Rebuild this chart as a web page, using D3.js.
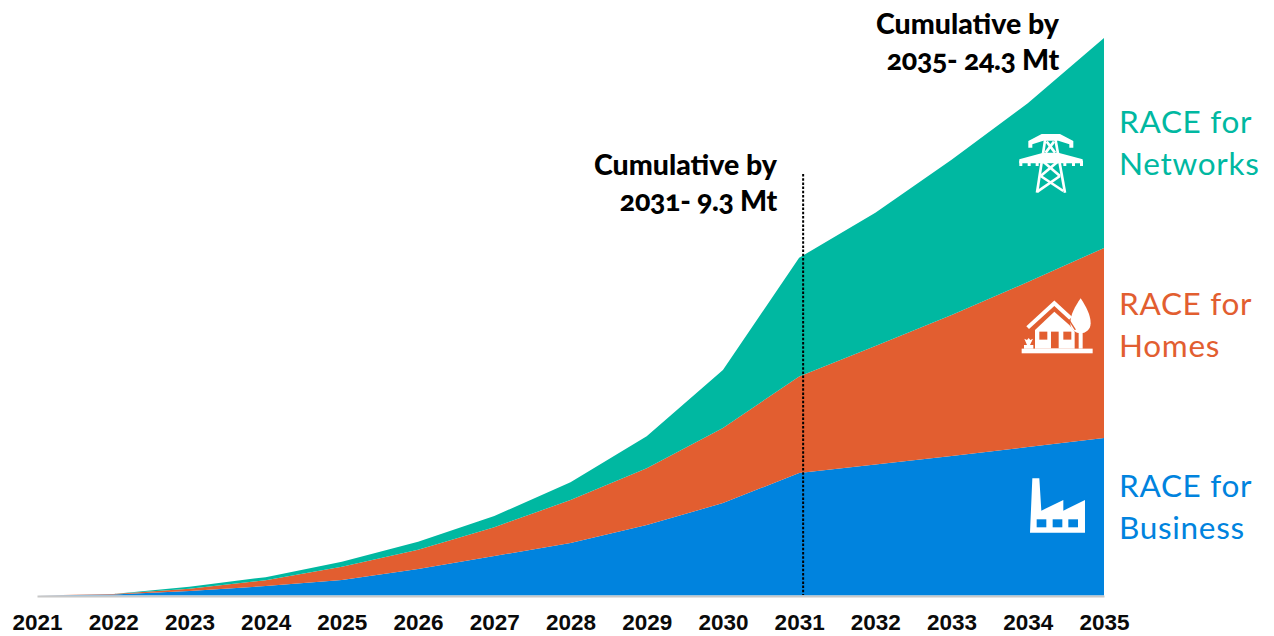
<!DOCTYPE html>
<html><head><meta charset="utf-8">
<script src="https://cdn.jsdelivr.net/npm/d3@7"></script>
<style>
html,body{margin:0;padding:0;background:#fff}
svg{display:block}
.race{font-family:Lato,"Open Sans",sans-serif;font-weight:400;font-size:31.5px;letter-spacing:0.7px}
.note{font-family:Lato,"Open Sans",sans-serif;font-weight:900;font-size:28.5px;fill:#000;text-anchor:end;font-feature-settings:"onum" 1;font-variant-numeric:oldstyle-nums}
.tick text{font-family:"Liberation Sans",Arial,sans-serif;font-weight:700;font-size:22.5px;fill:#0a0a0a}
</style></head><body>
<svg id="c" width="1274" height="636"></svg>
<script>
const years=[2021,2022,2023,2024,2025,2026,2027,2028,2029,2030,2031,2032,2033,2034,2035];
const business=[0,0.04,0.20,0.41,0.68,1.16,1.72,2.29,3.07,4.03,5.34,5.71,6.08,6.47,6.87];
const homes=[0,0.02,0.09,0.26,0.57,0.83,1.26,1.87,2.48,3.27,4.21,5.17,6.15,7.19,8.28];
const networks=[0,0,0.09,0.13,0.22,0.35,0.48,0.78,1.39,2.53,5.17,5.80,6.76,7.80,9.15];
const seriesNames=["business","homes","networks"];
const seriesColors=["#0083de","#e25e30","#00b8a1"];
const labelLines=[["RACE for","Business"],["RACE for","Homes"],["RACE for","Networks"]];
const labelBaselines=[[497,539],[315,357],[133,175]];
const notes=[{lines:["Cumulative by","2031- 9.3 Mt"],x:777,y:[175,211]},{lines:["Cumulative by","2035- 24.3 Mt"],x:1059,y:[34,70]}];

const svg=d3.select("#c");
const x=d3.scaleLinear().domain([2021,2035]).range([37,1104]);
const y=d3.scaleLinear().domain([0,24.3]).range([595.5,38]);
const table=years.map((yr,i)=>({year:yr,business:business[i],homes:homes[i],networks:networks[i]}));
const stack=d3.stack().keys(seriesNames)(table);
const area=d3.area().x(d=>x(d.data.year)).y0(d=>y(d[0])).y1(d=>y(d[1]));
svg.selectAll("path.a").data(stack).join("path").attr("class","a").attr("d",area).attr("fill",(d,i)=>seriesColors[i]);

const ax=svg.append("g").attr("transform","translate(0,596)")
 .call(d3.axisBottom(x).tickValues(years).tickFormat(d3.format("d")).tickSize(0).tickPadding(18));
ax.select(".domain").attr("stroke","#c8c8c8").attr("stroke-width",2);

svg.append("line").attr("x1",x(2031)+4).attr("x2",x(2031)+4).attr("y1",174).attr("y2",595)
 .attr("stroke","#000").attr("stroke-width",2).attr("stroke-dasharray","2.5 1.7");

labelLines.forEach((ls,i)=>ls.forEach((t,j)=>svg.append("text").attr("class","race").attr("x",1119).attr("y",labelBaselines[i][j]).attr("fill",seriesColors[i]).text(t)));
notes.forEach(n=>n.lines.forEach((t,j)=>svg.append("text").attr("class","note").attr("x",n.x).attr("y",n.y[j]).attr("letter-spacing",j?-0.3:0).text(t)));

// Icons
const tower=svg.append("g").attr("transform","translate(1000,110) scale(0.3333)").attr("fill","#fff");
tower.append("path").attr("d","M85 93L125 72L180 72L220 93L220 113L208 113L208 103L175 92L130 92L97 103L97 113L85 113Z");
tower.append("path").attr("d","M58 148L130 128L175 128L248 148L248 160L58 160Z");
[58,83,107,190,216,240].forEach(t=>tower.append("rect").attr("x",t).attr("y",152).attr("width",9).attr("height",16));
const tw=tower.append("g").attr("stroke","#fff").attr("stroke-width",8).attr("fill","none");
[[136,86,111,248],[166,86,195,248],[140,95,165,128],[162,95,137,128],[131,156,180,198],[172,156,122,198],[122,198,190,243],[180,198,112,245]].forEach(l=>tw.append("line").attr("x1",l[0]).attr("y1",l[1]).attr("x2",l[2]).attr("y2",l[3]));

const house=svg.append("g").attr("transform","translate(1000,110) scale(0.3333)").attr("fill","#fff");
house.append("path").attr("d","M83 653L163 580L212 625").attr("fill","none").attr("stroke","#fff").attr("stroke-width",12);
house.append("path").attr("d","M105 660L163 605L208 645L224 665L224 716L105 716Z");
[[118,665,24,24],[153,665,23,50],[190,665,24,24]].forEach(r=>house.append("rect").attr("x",r[0]).attr("y",r[1]).attr("width",r[2]).attr("height",r[3]).attr("fill","#e25e30"));
house.append("rect").attr("x",65).attr("y",716).attr("width",213).attr("height",14);
house.append("path").attr("d","M242 565C225 590 211 615 211 640C211 660 228 670 242 670C256 670 272 660 272 640C272 615 258 590 242 565Z");
house.append("rect").attr("x",236).attr("y",660).attr("width",12).attr("height",56);
house.append("path").attr("d","M72 716L100 716L100 705L90 705L99 686L91 690L86 684L81 690L73 686L81 705L72 705Z");
house.append("path").attr("d","M207 630L226 660").attr("stroke","#e25e30").attr("stroke-width",4).attr("fill","none");

const factory=svg.append("g").attr("transform","translate(1000,280) scale(0.3333)").attr("fill","#fff");
factory.append("path").attr("d","M97 595L118 595L124 692L190 660L190 692L255 660L255 758L90 758Z");
[110,158,205].forEach(t=>factory.append("rect").attr("x",t).attr("y",718).attr("width",29).attr("height",24).attr("fill","#0083de"));
</script>
</body></html>
